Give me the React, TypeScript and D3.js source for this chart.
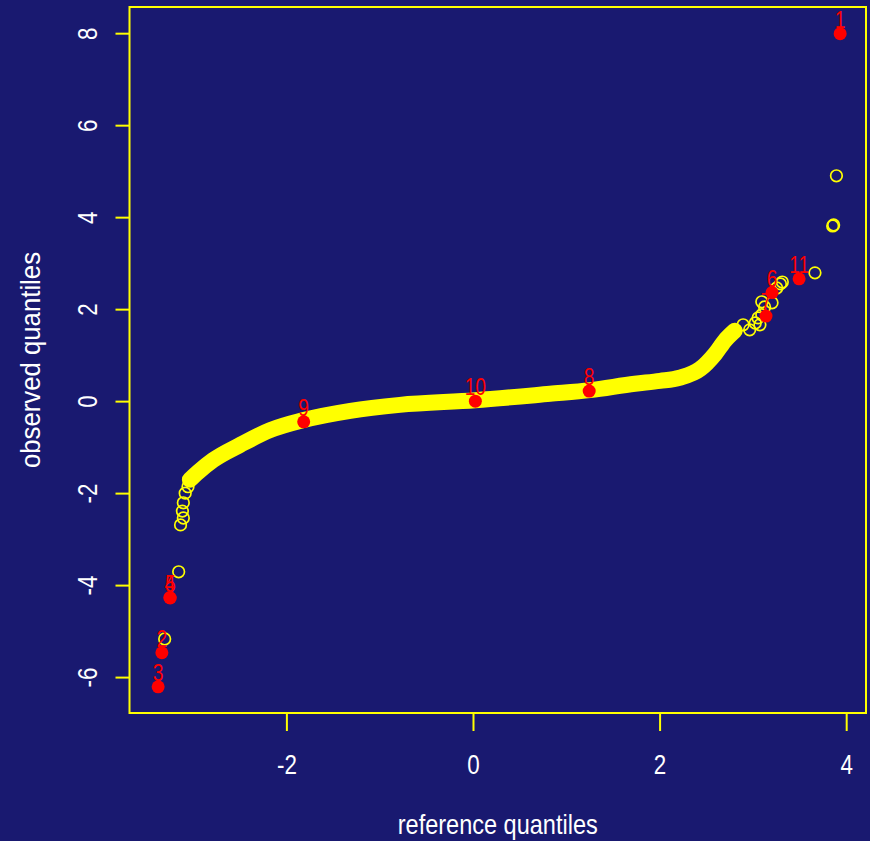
import React from 'react';
import * as d3 from 'd3';

// dense centre of the yellow band (reference, observed)
const bandX = [-3.04, -2.95, -2.79, -2.5, -2.18, -1.82, -1.32, -0.79, 0.02, 0.82, 1.25, 1.73, 2.0, 2.21, 2.43, 2.59, 2.7, 2.8];
const bandY = [-1.7, -1.53, -1.27, -0.94, -0.62, -0.4, -0.2, -0.07, 0.03, 0.17, 0.25, 0.39, 0.45, 0.52, 0.71, 1.04, 1.34, 1.54];

// sparse open circles in the tails
const tailX = [-3.06, -3.09, -3.11, -3.12, -3.11, -3.14, -3.16, -3.31, 2.89, 2.96, 3.02, 3.05, 3.09, 3.09, 3.12, 3.2, 3.25, 3.31, 3.29, 3.07, 3.66, 3.85, 3.86, 3.89];
const tailY = [-1.85, -1.99, -2.2, -2.38, -2.53, -2.68, -3.7, -5.16, 1.67, 1.56, 1.71, 1.82, 1.89, 2.17, 2.06, 2.15, 2.47, 2.6, 2.56, 1.67, 2.8, 3.82, 3.84, 4.91];

// labelled (red) points
const ids = ['1', '2', '3', '4', '5', '6', '7', '8', '9', '10', '11'];
const idX = [3.93, -3.34, -3.38, -3.255, -3.25, 3.2, 3.135, 1.24, -1.82, 0.02, 3.49];
const idY = [8.0, -5.46, -6.2, -4.26, -4.27, 2.37, 1.86, 0.23, -0.44, 0.01, 2.67];

const xTicks = [-2, 0, 2, 4];
const yTicks = [-6, -4, -2, 0, 2, 4, 6, 8];

const W = 870, H = 841;
const plot = { left: 129.5, right: 866, top: 7, bottom: 713 };
const bg = '#191970';
const yellow = '#ffff00';
const font = "'Liberation Sans', Arial, sans-serif";
const narrow = 'scale(0.8,1)';

export default function App() {
  const x = d3.scaleLinear().domain([-3.687, 4.207]).range([plot.left, plot.right]);
  const y = d3.scaleLinear().domain([-6.77, 8.58]).range([plot.bottom, plot.top]);

  const band = d3.line<number>()
    .x((_, i) => x(bandX[i]))
    .y((_, i) => y(bandY[i]))
    .curve(d3.curveMonotoneX)(bandX);

  return (
    <svg width={W} height={H} style={{ position: 'absolute', left: 0, top: 0 }}>
      <rect width={W} height={H} fill={bg} />

      {/* box */}
      <rect x={plot.left} y={plot.top} width={plot.right - plot.left} height={plot.bottom - plot.top}
        fill="none" stroke={yellow} strokeWidth={2} />

      {/* x axis */}
      {xTicks.map(t => (
        <g key={'x' + t}>
          <line x1={x(t)} x2={x(t)} y1={plot.bottom} y2={plot.bottom + 18} stroke={yellow} strokeWidth={2} />
          <text transform={`translate(${x(t)},774) ${narrow}`} textAnchor="middle" fill="#fff"
            fontFamily={font} fontSize={28}>{t}</text>
        </g>
      ))}
      {/* y axis */}
      {yTicks.map(t => (
        <g key={'y' + t}>
          <line x1={plot.left - 14} x2={plot.left} y1={y(t)} y2={y(t)} stroke={yellow} strokeWidth={2} />
          <text transform={`translate(97,${y(t)}) rotate(-90) ${narrow}`} textAnchor="middle" fill="#fff"
            fontFamily={font} fontSize={28}>{t}</text>
        </g>
      ))}

      <text x={(plot.left + plot.right) / 2} y={834} textAnchor="middle" fill="#fff" fontFamily={font}
        fontSize={28} textLength={200} lengthAdjust="spacingAndGlyphs">reference quantiles</text>
      <text transform={`translate(40,${(plot.top + plot.bottom) / 2}) rotate(-90)`} textAnchor="middle"
        fill="#fff" fontFamily={font} fontSize={28} textLength={216} lengthAdjust="spacingAndGlyphs">observed quantiles</text>

      {/* dense band of points */}
      <path d={band ?? ''} fill="none" stroke={yellow} strokeWidth={16} strokeLinecap="round" strokeLinejoin="round" />

      {tailX.map((v, i) => (
        <circle key={'t' + i} cx={x(v)} cy={y(tailY[i])} r={5.8} fill="none" stroke={yellow} strokeWidth={1.7} />
      ))}

      {idX.map((v, i) => (
        <circle key={'p' + i} cx={x(v)} cy={y(idY[i])} r={6.5} fill="#ff0000" />
      ))}
      {idX.map((v, i) => (
        <text key={'l' + i} transform={`translate(${x(v)},${y(idY[i]) - 6}) ${narrow}`} textAnchor="middle"
          fill="#ff0000" fontFamily={font} fontSize={24}>{ids[i]}</text>
      ))}
    </svg>
  );
}
